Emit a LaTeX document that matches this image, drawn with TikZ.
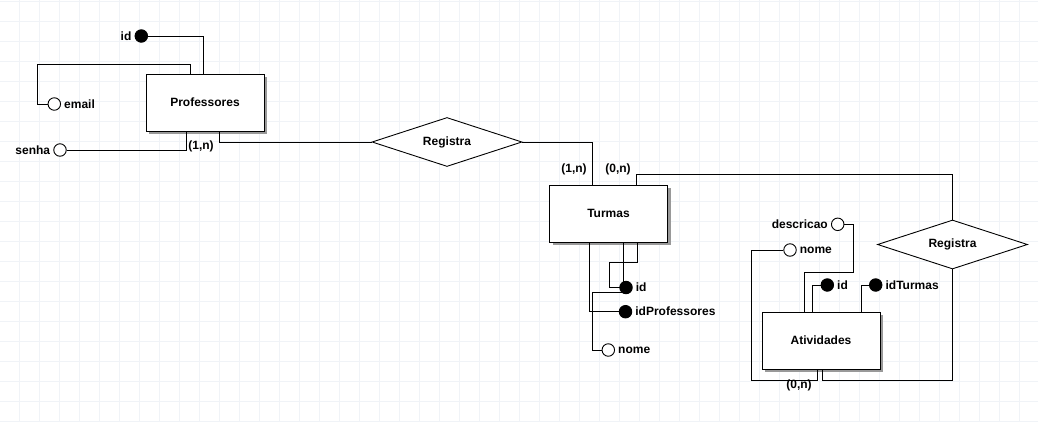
\documentclass[tikz,border=0pt]{standalone}
\usepackage{fontspec}
\setmainfont{Liberation Sans}
\usepackage{xcolor}
\usetikzlibrary{shapes,arrows,positioning,calc,shadows}

\definecolor{gridcol}{RGB}{240,243,247}
\newcommand{\erfont}{\fontsize{12}{14}\selectfont\bfseries}

\begin{document}
\begin{tikzpicture}[
    x=1pt, y=-1pt,
    entity/.style={rectangle, draw, fill=white, line width=1pt, minimum width=118pt, minimum height=57pt, inner sep=0pt, font=\erfont,
        general shadow={fill=gray!80, shadow xshift=3pt, shadow yshift=-3pt}},
    rel/.style={diamond, draw, fill=white, aspect=3, minimum width=150pt, minimum height=49pt, inner sep=0pt, font=\erfont, line width=0.9pt},
    key/.style={circle, draw, fill=black, line width=0.9pt, minimum size=12.5pt, inner sep=0pt},
    attr/.style={circle, draw, fill=white, line width=0.9pt, minimum size=12.5pt, inner sep=0pt},
    card/.style={font=\erfont, inner sep=0pt},
    edge/.style={line width=0.9pt},
    gridline/.style={draw=gridcol, line width=0.9pt},
    every label/.style={font=\erfont, inner sep=0pt},
    label distance=3pt
]
    \useasboundingbox[fill=white] (0,0) rectangle (1038,421);
    \foreach \gx in {19,39,...,1039} \draw[gridline] (\gx,0) -- (\gx,421);
    \foreach \gy in {1,21,...,421} \draw[gridline] (0,\gy) -- (1038,\gy);

    % entidades e relacionamentos
    \node[entity] (prof) at (205,102.5) {Professores};
    \node[entity] (turmas) at (608.5,213.5) {Turmas};
    \node[entity] (ativ) at (821,340.5) {Atividades};
    \node[rel] (reg1) at (447,142) {Registra};
    \node[rel] (reg2) at (952.5,244.5) {Registra};

    % atributos
    \node[key, label=left:id] (pid) at (141.3,36) {};
    \node[attr, label=right:email] (pemail) at (54.3,104) {};
    \node[attr, label=left:senha] (psenha) at (60,150) {};
    \node[key, label=right:id] (tid) at (626,287.5) {};
    \node[key, label=right:idProfessores] (tidp) at (625.5,311.7) {};
    \node[attr, label=right:nome] (tnome) at (608.3,350) {};
    \node[attr, label=left:descricao] (adesc) at (837.7,224.3) {};
    \node[attr, label=right:nome] (anome) at (790,250) {};
    \node[key, label=right:id] (aid) at (827.3,285) {};
    \node[key, label=right:idTurmas] (aidt) at (875.7,285) {};

    % cardinalidades
    \node[card] (c1) at (201,146.5) {(1,n)};
    \node[card] (c2) at (574,169) {(1,n)};
    \node[card] (c3) at (618,169) {(0,n)};
    \node[card] (c4) at (799,385.5) {(0,n)};

    \draw[edge] (pid.east) -| ([xshift=-2]prof.north);
    \draw[edge] ([xshift=-14.5]prof.north) -- ++(0,-9) -| ([xshift=-10]pemail.west) -- (pemail.west);
    \draw[edge] (psenha.east) -| ([xshift=-18.5]prof.south);
    \draw[edge] ([xshift=14]prof.south) |- (reg1.west);
    \draw[edge] (reg1.east) -| ([xshift=-16]turmas.north);
    \draw[edge] ([xshift=28]turmas.north) -- ++(0,-10) -| (reg2.north);
    \draw[edge] (reg2.south) -- ++(0,111) -| ([xshift=1.5]ativ.south);

    \draw[edge] ([xshift=29]turmas.south) -- ++(0,20) -| ([xshift=-10]tid.west) -- (tid.west);
    \draw[edge] ([xshift=15]turmas.south) |- (tid);
    \draw[edge] (tid.-130) -- ++(-29,0) |- (tnome.west);
    \draw[edge] ([xshift=-19.5]turmas.south) |- (tidp.west);

    \draw[edge] (anome.west) -| ++(-32,130) -| ([xshift=-3.5]ativ.south);
    \draw[edge] (adesc.east) -| ++(9.5,48) -| ([xshift=-16.5]ativ.north);
    \draw[edge] ([xshift=-8.5]ativ.north) |- (aid.west);
    \draw[edge] ([xshift=40]ativ.north) |- (aidt.west);
\end{tikzpicture}
\end{document}
